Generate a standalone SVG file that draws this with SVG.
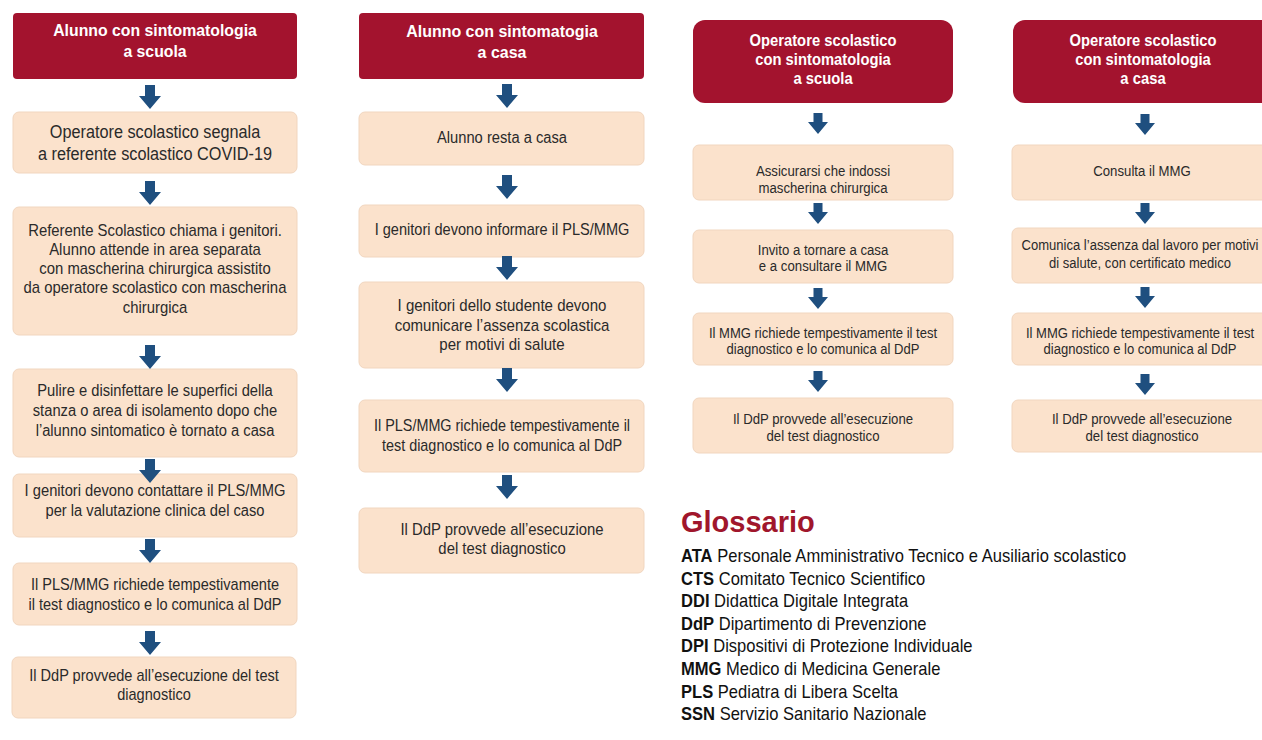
<svg xmlns="http://www.w3.org/2000/svg" xmlns:xlink="http://www.w3.org/1999/xlink" width="1262" height="740" viewBox="0 0 1262 740">
<style>
.hdr{fill:#a3132e}
.box{fill:#fbe2cc;stroke:#f1d6bf;stroke-width:1}
.arr{fill:#1f4f7f}
.t{font-family:"Liberation Sans",Arial,sans-serif;text-anchor:middle}
.ht{font-weight:bold;fill:#ffffff}
.bt{fill:#2a2a2a}
.g{font-family:"Liberation Sans",Arial,sans-serif;font-size:18px;fill:#111}
.gb{font-weight:bold}
</style>
<defs>
<path id="arL" class="arr" d="M-5,0 H5 V11 H11 L0,24 L-11,11 H-5 Z"/>
<path id="arS" class="arr" d="M-4.5,0 H4.5 V9 H10 L0,21 L-10,9 H-4.5 Z"/>
</defs>
<rect width="1262" height="740" fill="#ffffff"/>

<!-- Column 1 -->
<g id="c1-hdr"><rect class="hdr" x="13" y="13" width="284" height="66" rx="4"/>
<g class="t ht" font-size="17" transform="translate(155 0) scale(0.93 1)">
<text y="36">Alunno con sintomatologia</text>
<text y="57">a scuola</text></g></g>
<g id="c1-b1"><rect class="box" x="13" y="112" width="284" height="61" rx="6"/>
<g class="t bt" font-size="17.5" transform="translate(155 0) scale(0.93 1)">
<text y="138">Operatore scolastico segnala</text>
<text y="160">a referente scolastico COVID-19</text></g></g>
<g id="c1-b2"><rect class="box" x="13" y="207" width="284" height="128" rx="6"/>
<g class="t bt" font-size="16" transform="translate(155 0) scale(0.93 1)">
<text y="236">Referente Scolastico chiama i genitori.</text>
<text y="255">Alunno attende in area separata</text>
<text y="274">con mascherina chirurgica assistito</text>
<text y="293">da operatore scolastico con mascherina</text>
<text y="313">chirurgica</text></g></g>
<g id="c1-b3"><rect class="box" x="13" y="369" width="284" height="88" rx="6"/>
<g class="t bt" font-size="16" transform="translate(155 0) scale(0.92 1)">
<text y="396">Pulire e disinfettare le superfici della</text>
<text y="416">stanza o area di isolamento dopo che</text>
<text y="436">l’alunno sintomatico è tornato a casa</text></g></g>
<g id="c1-b4"><rect class="box" x="13" y="474" width="284" height="63" rx="6"/>
<g class="t bt" font-size="16" transform="translate(155 0) scale(0.92 1)">
<text y="496">I genitori devono contattare il PLS/MMG</text>
<text y="516">per la valutazione clinica del caso</text></g></g>
<g id="c1-b5"><rect class="box" x="13" y="563" width="284" height="62" rx="6"/>
<g class="t bt" font-size="16" transform="translate(155 0) scale(0.91 1)">
<text y="590">Il PLS/MMG richiede tempestivamente</text>
<text y="610">il test diagnostico e lo comunica al DdP</text></g></g>
<g id="c1-b6"><rect class="box" x="12" y="657" width="284" height="61" rx="6"/>
<g class="t bt" font-size="16" transform="translate(154 0) scale(0.91 1)">
<text y="681">Il DdP provvede all’esecuzione del test</text>
<text y="700">diagnostico</text></g></g>

<!-- Column 2 -->
<g id="c2-hdr"><rect class="hdr" x="359" y="13" width="285" height="66" rx="4"/>
<g class="t ht" font-size="17" transform="translate(502 0) scale(0.94 1)">
<text y="37">Alunno con sintomatogia</text>
<text y="58">a casa</text></g></g>
<g id="c2-b1"><rect class="box" x="359" y="112" width="285" height="53" rx="6"/>
<g class="t bt" font-size="16" transform="translate(502 0) scale(0.92 1)">
<text y="143">Alunno resta a casa</text></g></g>
<g id="c2-b2"><rect class="box" x="359" y="205" width="285" height="52" rx="6"/>
<g class="t bt" font-size="16" transform="translate(502 0) scale(0.91 1)">
<text y="235">I genitori devono informare il PLS/MMG</text></g></g>
<g id="c2-b3"><rect class="box" x="359" y="282" width="285" height="86" rx="6"/>
<g class="t bt" font-size="16" transform="translate(502 0) scale(0.94 1)">
<text y="311">I genitori dello studente devono</text>
<text y="331">comunicare l’assenza scolastica</text>
<text y="350">per motivi di salute</text></g></g>
<g id="c2-b4"><rect class="box" x="359" y="400" width="285" height="72" rx="6"/>
<g class="t bt" font-size="16" transform="translate(502 0) scale(0.9 1)">
<text y="431">Il PLS/MMG richiede tempestivamente il</text>
<text y="451">test diagnostico e lo comunica al DdP</text></g></g>
<g id="c2-b5"><rect class="box" x="359" y="508" width="285" height="65" rx="6"/>
<g class="t bt" font-size="16" transform="translate(502 0) scale(0.93 1)">
<text y="535">Il DdP provvede all’esecuzione</text>
<text y="554">del test diagnostico</text></g></g>

<!-- Column 3 -->
<g id="c3-hdr"><rect class="hdr" x="693" y="20" width="260" height="83" rx="12"/>
<g class="t ht" font-size="16" transform="translate(823 0) scale(0.925 1)">
<text y="46">Operatore scolastico</text>
<text y="65">con sintomatologia</text>
<text y="84">a scuola</text></g></g>
<g id="c3-b1"><rect class="box" x="693" y="145" width="260" height="55" rx="6"/>
<g class="t bt" font-size="14.5" transform="translate(823 0) scale(0.91 1)">
<text y="176">Assicurarsi che indossi</text>
<text y="193">mascherina chirurgica</text></g></g>
<g id="c3-b2"><rect class="box" x="693" y="230" width="260" height="53" rx="6"/>
<g class="t bt" font-size="14.5" transform="translate(823 0) scale(0.91 1)">
<text y="255">Invito a tornare a casa</text>
<text y="271">e a consultare il MMG</text></g></g>
<g id="c3-b3"><rect class="box" x="693" y="313" width="260" height="52" rx="6"/>
<g class="t bt" font-size="14.5" transform="translate(823 0) scale(0.9 1)">
<text y="338">Il MMG richiede tempestivamente il test</text>
<text y="354">diagnostico e lo comunica al DdP</text></g></g>
<g id="c3-b4"><rect class="box" x="693" y="398" width="260" height="55" rx="6"/>
<g class="t bt" font-size="14.5" transform="translate(823 0) scale(0.91 1)">
<text y="424">Il DdP provvede all’esecuzione</text>
<text y="441">del test diagnostico</text></g></g>

<!-- Column 4 -->
<g id="c4-hdr"><rect class="hdr" x="1013" y="20" width="260" height="83" rx="12"/>
<g class="t ht" font-size="16" transform="translate(1143 0) scale(0.925 1)">
<text y="46">Operatore scolastico</text>
<text y="65">con sintomatologia</text>
<text y="84">a casa</text></g></g>
<g id="c4-b1"><rect class="box" x="1012" y="145" width="260" height="55" rx="6"/>
<g class="t bt" font-size="14.5" transform="translate(1142 0) scale(0.91 1)">
<text y="176">Consulta il MMG</text></g></g>
<g id="c4-b2"><rect class="box" x="1012" y="228" width="260" height="55" rx="6"/>
<g class="t bt" font-size="14.5" transform="translate(1140 0) scale(0.9 1)">
<text y="250">Comunica l’assenza dal lavoro per motivi</text>
<text y="268">di salute, con certificato medico</text></g></g>
<g id="c4-b3"><rect class="box" x="1012" y="313" width="260" height="52" rx="6"/>
<g class="t bt" font-size="14.5" transform="translate(1140 0) scale(0.9 1)">
<text y="338">Il MMG richiede tempestivamente il test</text>
<text y="354">diagnostico e lo comunica al DdP</text></g></g>
<g id="c4-b4"><rect class="box" x="1012" y="400" width="260" height="52" rx="6"/>
<g class="t bt" font-size="14.5" transform="translate(1142 0) scale(0.91 1)">
<text y="424">Il DdP provvede all’esecuzione</text>
<text y="441">del test diagnostico</text></g></g>

<!-- Connectors -->
<g id="connectors">
<use xlink:href="#arL" x="150" y="85"/>
<use xlink:href="#arL" x="150" y="181"/>
<use xlink:href="#arL" x="150" y="345"/>
<use xlink:href="#arL" x="150" y="459"/>
<use xlink:href="#arL" x="150" y="539"/>
<use xlink:href="#arL" x="150" y="631"/>
<use xlink:href="#arL" x="507" y="84"/>
<use xlink:href="#arL" x="507" y="175"/>
<use xlink:href="#arL" x="507" y="256"/>
<use xlink:href="#arL" x="507" y="368"/>
<use xlink:href="#arL" x="507" y="475"/>
<use xlink:href="#arS" x="818" y="113"/>
<use xlink:href="#arS" x="818" y="203"/>
<use xlink:href="#arS" x="818" y="288"/>
<use xlink:href="#arS" x="818" y="371"/>
<use xlink:href="#arS" x="1145" y="114"/>
<use xlink:href="#arS" x="1145" y="203"/>
<use xlink:href="#arS" x="1145" y="287"/>
<use xlink:href="#arS" x="1145" y="374"/>
</g>

<!-- Glossary -->
<g id="glossary">
<text x="681" y="532" font-family="'Liberation Sans',Arial,sans-serif" font-weight="bold" font-size="29" fill="#a0162c">Glossario</text>
<g class="g" transform="translate(681 0) scale(0.92 1)">
<text y="562"><tspan class="gb">ATA</tspan> Personale Amministrativo Tecnico e Ausiliario scolastico</text>
<text y="584.6"><tspan class="gb">CTS</tspan> Comitato Tecnico Scientifico</text>
<text y="607.2"><tspan class="gb">DDI</tspan> Didattica Digitale Integrata</text>
<text y="629.8"><tspan class="gb">DdP</tspan> Dipartimento di Prevenzione</text>
<text y="652.4"><tspan class="gb">DPI</tspan> Dispositivi di Protezione Individuale</text>
<text y="675"><tspan class="gb">MMG</tspan> Medico di Medicina Generale</text>
<text y="697.6"><tspan class="gb">PLS</tspan> Pediatra di Libera Scelta</text>
<text y="720.2"><tspan class="gb">SSN</tspan> Servizio Sanitario Nazionale</text>
</g>
</g>
</svg>
